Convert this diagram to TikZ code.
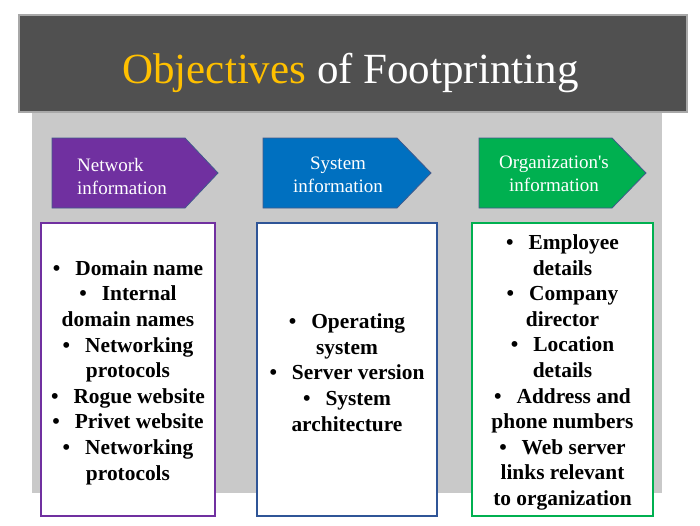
\documentclass[tikz,border=0pt]{standalone}
\usepackage{fontspec}
\setmainfont{Liberation Serif}

\definecolor{titlegray}{RGB}{80,80,80}
\definecolor{titleedge}{RGB}{168,168,168}
\definecolor{panelgray}{RGB}{201,201,201}
\definecolor{titleyellow}{RGB}{255,192,0}
\definecolor{netpurple}{RGB}{112,48,160}
\definecolor{sysblue}{RGB}{0,112,192}
\definecolor{orggreen}{RGB}{0,176,80}
\definecolor{tagedge}{RGB}{65,90,140}
\definecolor{sysedge}{RGB}{47,85,151}

\newcommand{\bul}{\textbullet\hspace{0.7em}}

\begin{document}
\begin{tikzpicture}[x=1pt,y=-1pt,
  tag/.style={draw=tagedge,line width=0.8pt},
  tagtext/.style={text=white,inner sep=0pt,font=\fontsize{19}{23}\selectfont},
  listbox/.style={draw=#1,line width=1.6pt,fill=white,minimum height=293pt,inner sep=0pt},
  listtext/.style={inner sep=0pt,align=center,yshift=-3pt,
    font=\bfseries\fontsize{21.4}{25.6}\selectfont}]
  \useasboundingbox (0,0) rectangle (700,525);
  % grey panel and title bar
  \fill[panelgray] (32,113) rectangle (662,493);
  \draw[titleedge,line width=2pt,fill=titlegray] (19,15) rectangle (687,112);
  \node[anchor=base,inner sep=0pt,font=\fontsize{43}{50}\selectfont] (title) at (350.5,83)
    {\textcolor{titleyellow}{Objectives} \textcolor{white}{of Footprinting}};
  % network information
  \draw[tag,fill=netpurple] (52,138) -- (185,138) -- (218,173) -- (185,208) -- (52,208) -- cycle;
  \node[tagtext,anchor=west,align=left] (nettag) at (77,176) {Network\\information};
  \node[listbox=netpurple,minimum width=174pt] (netbox) at (128,369.5) {};
  \node[listtext] (netlist) at (netbox.center)
    {\bul Domain name\\ \bul Internal\\domain names\\ \bul Networking\\protocols\\
     \bul Rogue website\\ \bul Privet website\\ \bul Networking\\protocols};
  % system information
  \draw[tag,fill=sysblue] (263,138) -- (397,138) -- (431,173) -- (397,208) -- (263,208) -- cycle;
  \node[tagtext,align=center] (systag) at (338,175) {System\\information};
  \node[listbox=sysedge,minimum width=180pt] (sysbox) at (347,369.5) {};
  \node[listtext] (syslist) at (sysbox.center)
    {\bul Operating\\system\\ \bul Server version\\ \bul System\\architecture};
  % organization's information
  \draw[tag,fill=orggreen] (479,138) -- (612,138) -- (646,173) -- (612,208) -- (479,208) -- cycle;
  \node[tagtext,align=center] (orgtag) at (554,174) {Organization\textquotesingle s\\information};
  \node[listbox=orggreen,minimum width=181pt] (orgbox) at (562.5,369.5) {};
  \node[listtext] (orglist) at (orgbox.center)
    {\bul Employee\\details\\ \bul Company\\director\\ \bul Location\\details\\
     \bul Address and\\phone numbers\\ \bul Web server\\links relevant\\to organization};
\end{tikzpicture}
\end{document}
